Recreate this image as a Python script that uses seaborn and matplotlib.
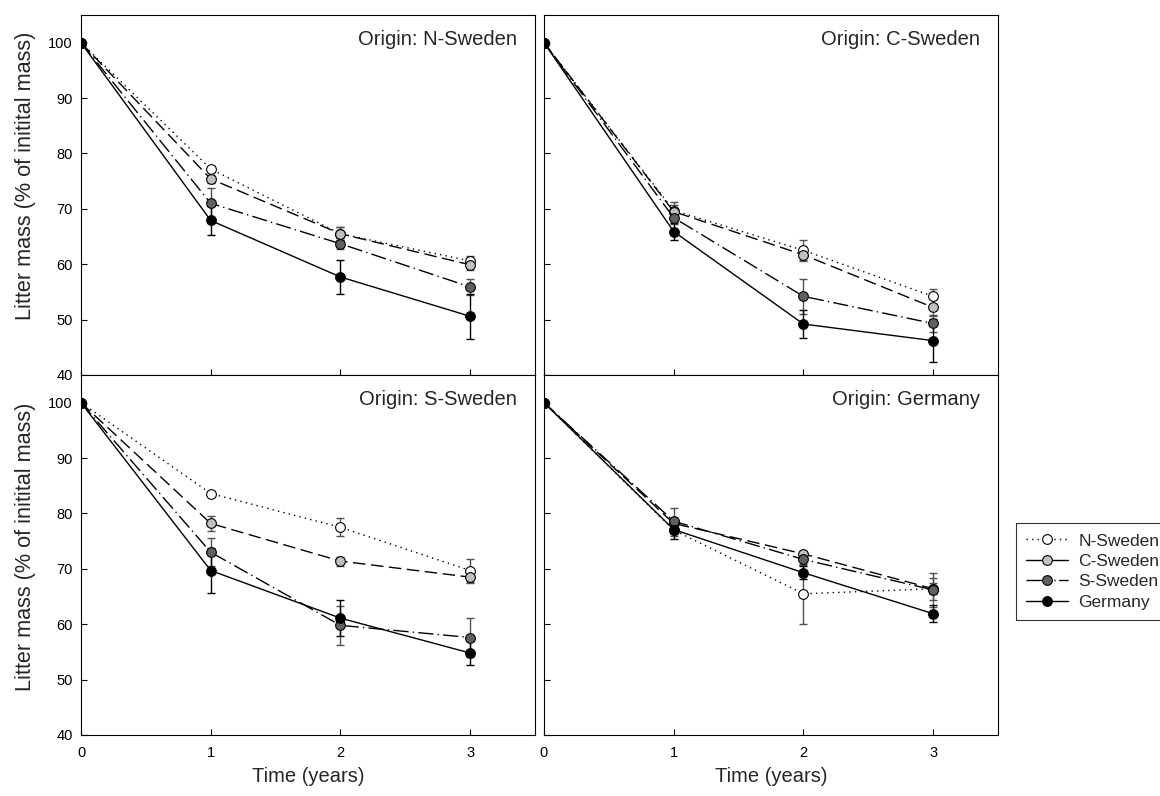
import pandas as pd
import matplotlib
matplotlib.use("Agg")
import matplotlib.pyplot as plt
from matplotlib.lines import Line2D
import seaborn as sns

times = [0, 1, 2, 3]
sites = ["N-Sweden", "C-Sweden", "S-Sweden", "Germany"]
origins = ["N-Sweden", "C-Sweden", "S-Sweden", "Germany"]

# litter mass (% of initial) per origin, one row per incubation site (N, C, S, Germany)
n_origin_mass = [[100, 77.2, 65.5, 60.6], [100, 75.4, 65.5, 59.9],
                 [100, 71.0, 63.7, 55.9], [100, 67.9, 57.7, 50.6]]
n_origin_err = [[0, 0.6, 1.2, 0.8], [0, 0.8, 1.2, 0.9],
                [0, 2.7, 1.0, 1.5], [0, 2.6, 3.1, 4.1]]

c_origin_mass = [[100, 69.7, 62.5, 54.2], [100, 69.5, 61.7, 52.2],
                 [100, 68.4, 54.2, 49.3], [100, 65.9, 49.2, 46.2]]
c_origin_err = [[0, 1.5, 1.9, 1.3], [0, 1.2, 1.0, 1.5],
                [0, 1.2, 3.1, 1.5], [0, 1.6, 2.5, 3.9]]

s_origin_mass = [[100, 83.6, 77.5, 69.7], [100, 78.2, 71.4, 68.5],
                 [100, 73.0, 59.8, 57.6], [100, 69.7, 61.1, 54.8]]
s_origin_err = [[0, 0.5, 1.6, 2.0], [0, 1.4, 0.8, 1.0],
                [0, 2.5, 3.5, 3.6], [0, 4.1, 3.2, 2.2]]

g_origin_mass = [[100, 77.0, 65.5, 66.4], [100, 78.2, 72.7, 66.4],
                 [100, 78.6, 71.7, 66.2], [100, 77.1, 69.3, 61.9]]
g_origin_err = [[0, 1.0, 5.4, 1.0], [0, 1.0, 0.6, 2.0],
                [0, 2.3, 1.0, 3.0], [0, 1.8, 1.2, 1.5]]

all_mass = [n_origin_mass, c_origin_mass, s_origin_mass, g_origin_mass]
all_err = [n_origin_err, c_origin_err, s_origin_err, g_origin_err]

rows = []
for origin, mass, err in zip(origins, all_mass, all_err):
    for site, m_row, e_row in zip(sites, mass, err):
        for t, m, e in zip(times, m_row, e_row):
            rows.append({"origin": origin, "site": site, "time": t, "mass": m, "err": e})
df = pd.DataFrame(rows)

face = {"N-Sweden": "white", "C-Sweden": "#c0c0c0", "S-Sweden": "#606060", "Germany": "black"}
dash = {"N-Sweden": (0, (1, 3)), "C-Sweden": (0, (9, 4)),
        "S-Sweden": (0, (11, 3, 1, 3)), "Germany": "-"}
# legend handles in the original show slightly different dash phases
leg_dash = {"N-Sweden": (0, (1, 3)), "C-Sweden": "-",
            "S-Sweden": (0, (11.5, 8.5, 1, 2.5)), "Germany": "-"}
ecol = {"N-Sweden": "#505050", "C-Sweden": "#505050", "S-Sweden": "#505050", "Germany": "black"}

sns.set_theme(style="ticks")
plt.rcParams["font.family"] = ["Liberation Sans", "DejaVu Sans"]

W, H = 1160, 796
fig = plt.figure(figsize=(W / 100, H / 100), dpi=100)
lefts = [81 / W, 544 / W]
bottoms = [1 - 375 / H, 1 - 735 / H]
pw, ph = 454 / W, 360 / H
label_y = [0.553, 0.522]

for i, origin in enumerate(origins):
    r, c = divmod(i, 2)
    ax = fig.add_axes([lefts[c], bottoms[r], pw, ph])
    sub = df[df["origin"] == origin]
    for site in sites:
        s = sub[sub["site"] == site]
        ax.errorbar(s["time"], s["mass"], yerr=s["err"], fmt="none",
                    ecolor=ecol[site], elinewidth=1, capsize=3, capthick=1, zorder=2)
        sns.lineplot(x=s["time"].values, y=s["mass"].values, ax=ax, color="black",
                     linewidth=1, linestyle=dash[site], marker="o", markersize=7,
                     markerfacecolor=face[site], markeredgecolor="black",
                     markeredgewidth=0.8, zorder=3)
    ax.set_xlim(0, 3.5)
    ax.set_ylim(40, 105)
    ax.set_xticks(times)
    ax.set_yticks(range(40, 101, 10))
    for sp in ax.spines.values():
        sp.set_color("black")
        sp.set_linewidth(0.8)
    ax.tick_params(direction="in", length=4, width=0.8, labelsize=10.5,
                   colors="black", labelbottom=(r == 1), labelleft=(c == 0))
    ax.tick_params(axis="x", pad=8)
    ax.tick_params(axis="y", pad=6)
    ax.text(0.96, 0.917, f"Origin: {origin}", transform=ax.transAxes,
            ha="right", va="baseline", fontsize=14.5)
    if c == 0:
        ax.set_ylabel("Litter mass (% of initital mass)", fontsize=15.6,
                      labelpad=9, y=label_y[r])
    else:
        ax.set_ylabel("")
    if r == 1:
        ax.set_xlabel("Time (years)", fontsize=14.5, labelpad=5)
    else:
        ax.set_xlabel("")

handles = [Line2D([], [], color="black", linewidth=1, linestyle=leg_dash[s], marker="o",
                  markersize=7, markerfacecolor=face[s], markeredgecolor="black",
                  markeredgewidth=0.8, label=s) for s in sites]
leg = fig.legend(handles=handles, loc="lower left",
                 bbox_to_anchor=(1016 / W, 1 - 620 / H), bbox_transform=fig.transFigure,
                 borderaxespad=0, fontsize=12.5, frameon=True, fancybox=False,
                 handlelength=2.4, handletextpad=0.6, labelspacing=0.3, borderpad=0.6)
leg.get_frame().set_edgecolor("black")
leg.get_frame().set_linewidth(0.8)

fig.savefig("out.png", dpi=100)
